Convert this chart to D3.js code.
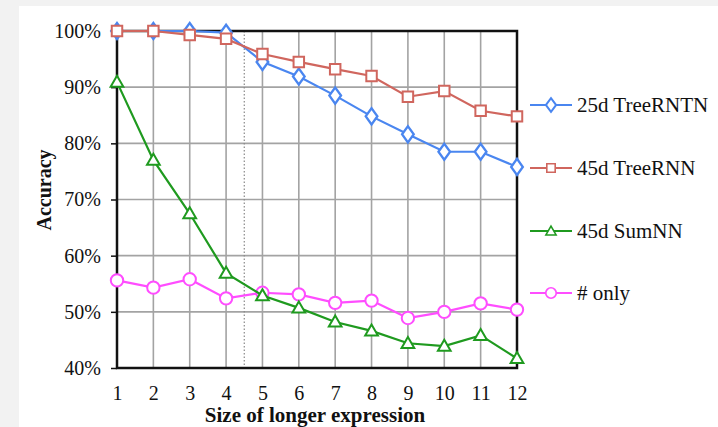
<!DOCTYPE html>
<html><head><meta charset="utf-8">
<script src="https://cdn.jsdelivr.net/npm/d3@7"></script>
<style>
html,body{margin:0;padding:0;background:#f2f2f2;}
svg{display:block;}
</style></head><body>
<svg id="chart" width="718" height="427"></svg>
<script>
const sizes = [1,2,3,4,5,6,7,8,9,10,11,12];
const treeRNTN25 = [100,100,100,99.7,94.5,91.9,88.5,84.8,81.6,78.5,78.5,75.8];
const treeRNN45 = [100,100,99.3,98.6,95.9,94.5,93.2,92.0,88.3,89.3,85.8,84.8];
const sumNN45 = [90.9,77.0,67.5,56.9,52.9,50.7,48.2,46.6,44.4,43.9,45.8,41.7];
const numOnly = [55.6,54.3,55.8,52.4,53.4,53.1,51.6,52.0,48.9,50.0,51.5,50.4];
const yTicks = [40,50,60,70,80,90,100];
const seriesNames = ["25d TreeRNTN","45d TreeRNN","45d SumNN","# only"];
const seriesColors = ["#4a86f0","#d0665e","#1f9a1f","#ff4dff"];
const seriesMarkers = ["diamond","square","triangle","circle"];
const seriesValues = [treeRNTN25, treeRNN45, sumNN45, numOnly];
const dividerAt = 4.5;

const svg = d3.select("#chart");
svg.append("rect").attr("x",19).attr("y",6).attr("width",699).attr("height",421).attr("fill","#fff");

const L=117,R=517,T=31,B=368;
const x = d3.scaleLinear().domain([1,12]).range([L,R]);
const y = d3.scaleLinear().domain([40,100]).range([B,T]);
const font = "'Liberation Serif','Times New Roman',serif";

// grid
const g = svg.append("g");
g.selectAll(".vg").data(sizes).join("line")
  .attr("x1",d=>x(d)).attr("x2",d=>x(d)).attr("y1",T).attr("y2",B)
  .attr("stroke","#a3a3a3").attr("stroke-width",1.6);
g.selectAll(".hg").data(yTicks).join("line")
  .attr("x1",L).attr("x2",R).attr("y1",d=>y(d)).attr("y2",d=>y(d))
  .attr("stroke","#a3a3a3").attr("stroke-width",1.6);
g.append("line").attr("x1",x(dividerAt)).attr("x2",x(dividerAt)).attr("y1",T).attr("y2",B)
  .attr("stroke","#888").attr("stroke-width",1.2).attr("stroke-dasharray","1.5,2");

// frame
svg.append("rect").attr("x",L).attr("y",T).attr("width",R-L).attr("height",B-T)
  .attr("fill","none").attr("stroke","#111").attr("stroke-width",2.5);

// y axis
const yAxis = d3.axisLeft(y).tickValues(yTicks).tickSize(6).tickPadding(10).tickFormat(d=>d+"%");
const ya = svg.append("g").attr("transform",`translate(${L},0)`).call(yAxis);
ya.select(".domain").remove();
ya.selectAll(".tick line").attr("stroke","#111").attr("stroke-width",1.5);
ya.selectAll("text").attr("font-family",font).attr("font-size",20).attr("fill","#111");

// x axis
const xAxis = d3.axisBottom(x).tickValues(sizes).tickSize(0).tickPadding(18).tickFormat(d3.format("d"));
const xa = svg.append("g").attr("transform",`translate(0,${B})`).call(xAxis);
xa.select(".domain").remove();
xa.selectAll("text").attr("font-family",font).attr("font-size",20).attr("fill","#111");

svg.append("text").attr("x",315).attr("y",422).attr("text-anchor","middle")
  .attr("font-family",font).attr("font-weight","bold").attr("font-size",21).attr("fill","#111")
  .text("Size of longer expression");
svg.append("text").attr("transform","translate(51,190) rotate(-90)").attr("text-anchor","middle")
  .attr("font-family",font).attr("font-weight","bold").attr("font-size",20).attr("fill","#111")
  .text("Accuracy");

function marker(sel, type, color){
  sel.attr("fill","#fff").attr("stroke",color).attr("stroke-width",2);
  if(type==="circle") sel.attr("d", d3.symbol(d3.symbolCircle, 120)());
  else if(type==="square") sel.attr("d", d3.symbol(d3.symbolSquare, 110)());
  else if(type==="triangle") sel.attr("d", d3.symbol(d3.symbolTriangle, 70)());
  else sel.attr("d", d3.symbol(d3.symbolDiamond, 75)()).attr("transform-extra","");
}

const line = d3.line().x((d,i)=>x(sizes[i])).y(d=>y(d));
// draw order: numOnly, sumNN, TreeRNTN, TreeRNN
[3,2,0,1].forEach(k=>{
  const sg = svg.append("g");
  sg.append("path").datum(seriesValues[k]).attr("d",line).attr("fill","none")
    .attr("stroke",seriesColors[k]).attr("stroke-width",2.2);
  sg.selectAll("path.m").data(seriesValues[k]).join("path").attr("class","m")
    .each(function(d,i){
      const p=d3.select(this);
      marker(p, seriesMarkers[k], seriesColors[k]);
      let dy = seriesMarkers[k]==="triangle" ? 1 : 0;
      let sx = seriesMarkers[k]==="diamond" ? " scale(1.25,1)" : "";
      p.attr("transform",`translate(${x(sizes[i])},${y(d)+dy})${sx}`);
    });
});

// legend
const legY = [105,168,231,293];
seriesNames.forEach((n,k)=>{
  const lg = svg.append("g").attr("transform",`translate(0,${legY[k]})`);
  lg.append("line").attr("x1",530).attr("x2",572).attr("y1",0).attr("y2",0)
    .attr("stroke",seriesColors[k]).attr("stroke-width",2);
  const m = lg.append("path");
  marker(m, seriesMarkers[k], seriesColors[k]);
  const sc = seriesMarkers[k]==="circle" ? " scale(0.85)" : (seriesMarkers[k]==="diamond" ? " scale(1.1,0.85)" : " scale(0.8)");
  m.attr("transform",`translate(551,${seriesMarkers[k]==="triangle"?1:0})${sc}`);
  lg.append("text").attr("x",577).attr("y",7).attr("font-family",font).attr("font-size",21)
    .attr("fill","#111").text(n);
});
</script>
</body></html>
